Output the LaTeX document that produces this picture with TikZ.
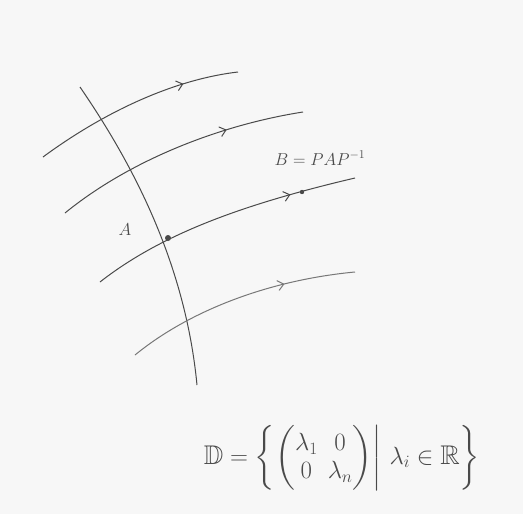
\documentclass[tikz,border=0pt]{standalone}
\usepackage{amsmath,amssymb}
\usetikzlibrary{arrows.meta,decorations.markings}
\definecolor{pencil}{HTML}{4A4A4A}
\definecolor{paper}{HTML}{F7F7F7}
\tikzset{
  flow/.style={draw=pencil,line width=1pt},
  midarrow/.style={postaction={decorate,decoration={markings,mark=at position #1 with {\arrow{Straight Barb[length=6pt,width=10pt,line width=1pt]}}}}},
  lbl/.style={text=pencil,inner sep=0pt}
}
\begin{document}
\begin{tikzpicture}[x=1pt,y=-1pt]
\fill[paper] (0,0) rectangle (523,514);
\useasboundingbox (0,0) rectangle (523,514);
% transversal curve
\draw[flow] (80,87) .. controls (130,160) and (185,260) .. (197,385);
% flow lines
\draw[flow,midarrow=0.74] (43,157) .. controls (100,115) and (170,80) .. (238,72);
\draw[flow,midarrow=0.70] (65,213) .. controls (130,160) and (220,125) .. (303,112);
\draw[flow,midarrow=0.76] (100,282) .. controls (160,235) and (240,205) .. (355,178);
\draw[flow,draw=pencil!75,midarrow=0.70] (135,355) .. controls (190,310) and (270,280) .. (355,272);
% points
\coordinate (A) at (168,238);
\coordinate (B) at (302,192);
\fill[pencil] (A) circle (3pt);
\fill[pencil] (B) circle (2.2pt);
\node[lbl,font=\fontsize{17}{20}\selectfont] (la) at (125,230) {$A$};
\node[lbl,font=\fontsize{17}{20}\selectfont] (lb) at (320,158) {$B=PAP^{-1}$};
\node[lbl,font=\fontsize{27}{32}\selectfont] (ld) at (342,458)
  {$\mathbb{D}=\left\{\begin{pmatrix}\lambda_1 & 0\\[-4pt] 0 & \lambda_n\end{pmatrix}\middle|\ \lambda_i\in\mathbb{R}\right\}$};
\end{tikzpicture}
\end{document}
